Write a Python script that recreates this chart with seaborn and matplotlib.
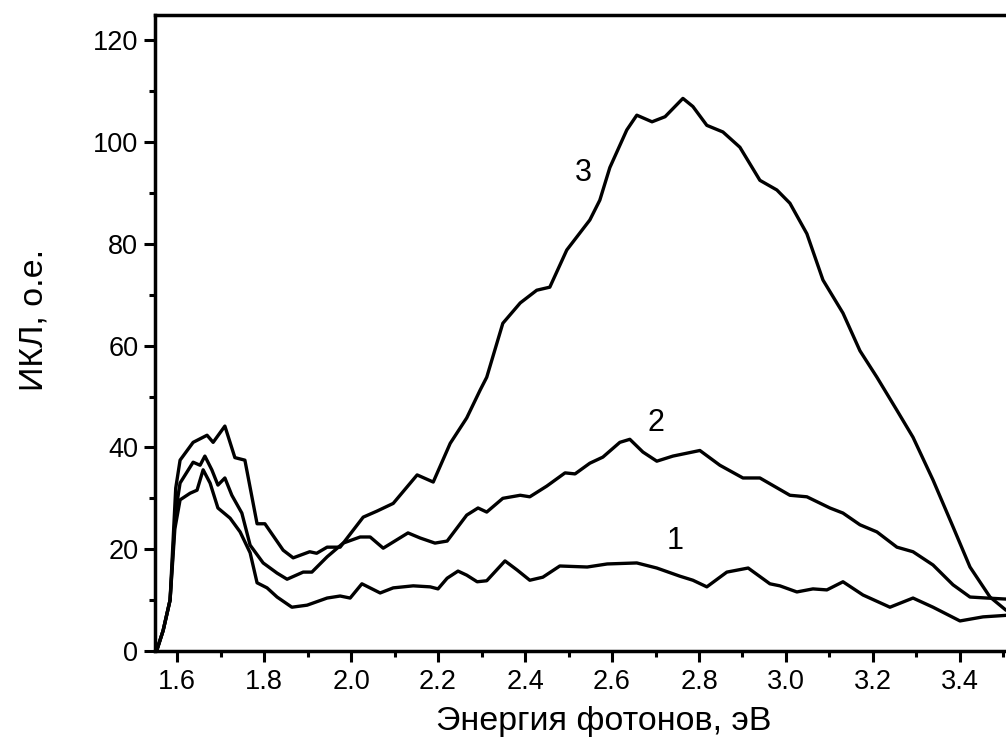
import numpy as np
import pandas as pd
import matplotlib
matplotlib.use("Agg")
import matplotlib.pyplot as plt
import seaborn as sns
from matplotlib.ticker import FixedLocator, MultipleLocator, FormatStrFormatter

# ---- data ----
x1 = [1.553, 1.568, 1.584, 1.595, 1.607, 1.63, 1.646, 1.66, 1.676, 1.694, 1.722, 1.745,
      1.768, 1.784, 1.807, 1.83, 1.864, 1.899, 1.945, 1.975, 1.998, 2.025, 2.067, 2.097,
      2.143, 2.182, 2.2, 2.221, 2.246, 2.266, 2.29, 2.312, 2.354, 2.382, 2.411, 2.441,
      2.48, 2.543, 2.589, 2.657, 2.703, 2.756, 2.786, 2.818, 2.864, 2.913, 2.963, 2.986,
      3.025, 3.062, 3.094, 3.131, 3.177, 3.239, 3.292, 3.338, 3.4, 3.453, 3.506]
y1 = [0, 4, 10, 24, 29.7, 31, 31.6, 35.6, 33, 28.1, 26.1, 23.4,
      19.3, 13.4, 12.4, 10.6, 8.6, 9, 10.4, 10.8, 10.4, 13.2, 11.4, 12.4,
      12.8, 12.6, 12.2, 14.3, 15.7, 14.9, 13.6, 13.8, 17.7, 15.9, 13.9, 14.5,
      16.7, 16.5, 17.1, 17.3, 16.3, 14.7, 13.9, 12.6, 15.5, 16.3, 13.2, 12.8,
      11.6, 12.2, 12, 13.6, 11, 8.6, 10.4, 8.6, 5.9, 6.7, 7]

x2 = [1.553, 1.568, 1.584, 1.596, 1.607, 1.637, 1.653, 1.664, 1.68, 1.694, 1.71, 1.726,
      1.749, 1.768, 1.798, 1.83, 1.853, 1.89, 1.91, 1.945, 1.982, 2.021, 2.044, 2.074,
      2.131, 2.159, 2.193, 2.221, 2.266, 2.292, 2.312, 2.349, 2.389, 2.411, 2.45, 2.492,
      2.515, 2.549, 2.579, 2.618, 2.641, 2.671, 2.703, 2.74, 2.802, 2.848, 2.901, 2.94,
      3.009, 3.048, 3.101, 3.131, 3.17, 3.209, 3.255, 3.292, 3.338, 3.384, 3.423, 3.462, 3.506]
y2 = [0, 4, 10, 27, 33, 37.1, 36.5, 38.3, 35.6, 32.6, 34, 30.6,
      27.1, 20.8, 17.3, 15.3, 14.1, 15.5, 15.5, 18.5, 21.2, 22.4, 22.4, 20.2,
      23.2, 22.2, 21.2, 21.6, 26.7, 28.1, 27.3, 30, 30.6, 30.3, 32.4, 35,
      34.8, 36.9, 38.1, 41, 41.6, 39.1, 37.3, 38.3, 39.4, 36.5, 34, 34,
      30.6, 30.3, 28.1, 27.1, 24.8, 23.4, 20.4, 19.5, 16.9, 13, 10.6, 10.4, 10.2]

x3 = [1.553, 1.568, 1.584, 1.597, 1.607, 1.637, 1.669, 1.683, 1.71, 1.733, 1.756, 1.784,
      1.802, 1.844, 1.867, 1.905, 1.921, 1.945, 1.975, 2.028, 2.06, 2.097, 2.152, 2.189,
      2.228, 2.266, 2.297, 2.312, 2.349, 2.389, 2.427, 2.457, 2.496, 2.549, 2.572, 2.595,
      2.634, 2.657, 2.692, 2.722, 2.763, 2.786, 2.818, 2.855, 2.894, 2.94, 2.979, 3.009,
      3.048, 3.085, 3.131, 3.17, 3.209, 3.255, 3.292, 3.338, 3.384, 3.423, 3.469, 3.506]
y3 = [0, 4, 10, 32, 37.5, 41, 42.4, 41, 44.2, 38, 37.5, 25,
      25, 19.8, 18.3, 19.5, 19.2, 20.4, 20.4, 26.3, 27.5, 29, 34.6, 33.2,
      40.8, 45.8, 51.3, 53.8, 64.4, 68.4, 70.9, 71.5, 78.8, 84.7, 88.6, 95,
      102.4, 105.3, 104, 105, 108.6, 107, 103.3, 102, 99, 92.5, 90.6, 88,
      82, 72.9, 66.4, 59, 53.8, 47.3, 42, 33.6, 24.4, 16.5, 10.6, 8]

curve_labels = ["1", "2", "3"]
label_x = [2.745, 2.701, 2.533]
label_y = [21.6, 44.8, 94.0]

x_major_ticks = [1.6, 1.8, 2.0, 2.2, 2.4, 2.6, 2.8, 3.0, 3.2, 3.4]
x_minor_ticks = [1.7, 1.9, 2.1, 2.3, 2.5, 2.7, 2.9, 3.1, 3.3, 3.5]

x_label = "Энергия фотонов, эВ"
y_label = "ИКЛ, о.е."

# ---- style ----
sns.set_theme(style="ticks")
plt.rcParams["font.family"] = ["Liberation Sans", "DejaVu Sans"]

df = pd.concat([
    pd.DataFrame({"E": x1, "I": y1, "curve": "1"}),
    pd.DataFrame({"E": x2, "I": y2, "curve": "2"}),
    pd.DataFrame({"E": x3, "I": y3, "curve": "3"}),
], ignore_index=True)

fig = plt.figure(figsize=(10.06, 7.51), dpi=100)
ax = fig.add_axes([0.1541, 0.1332, 0.8926, 0.8469])

sns.lineplot(data=df, x="E", y="I", hue="curve", units="curve", estimator=None,
             palette=["black", "black", "black"], linewidth=2.4, legend=False,
             sort=False, ax=ax)

for t, lx, ly in zip(curve_labels, label_x, label_y):
    ax.text(lx, ly, t, fontsize=22, ha="center", va="center", color="black")

ax.set_xlim(1.5494, 3.6138)
ax.set_ylim(0, 125)
ax.xaxis.set_major_locator(FixedLocator(x_major_ticks))
ax.xaxis.set_minor_locator(FixedLocator(x_minor_ticks))
ax.yaxis.set_major_locator(MultipleLocator(20))
ax.yaxis.set_minor_locator(MultipleLocator(10))
ax.xaxis.set_major_formatter(FormatStrFormatter("%.1f"))

ax.tick_params(which="major", direction="out", length=8, width=2.2, labelsize=19.5,
               pad=5, color="black", labelcolor="black")
ax.tick_params(which="minor", direction="out", length=4.5, width=2.2, color="black")
ax.tick_params(axis="y", which="major", pad=4)

for side in ["left", "bottom", "top"]:
    ax.spines[side].set_linewidth(2.5)
    ax.spines[side].set_color("black")
ax.spines["right"].set_visible(False)

ax.set_xlabel(x_label, fontsize=24.5, labelpad=8, color="black")
ax.set_ylabel(y_label, fontsize=24.5, color="black")
ax.yaxis.set_label_coords(-0.118, 0.52)

fig.savefig("out.png", dpi=100)
